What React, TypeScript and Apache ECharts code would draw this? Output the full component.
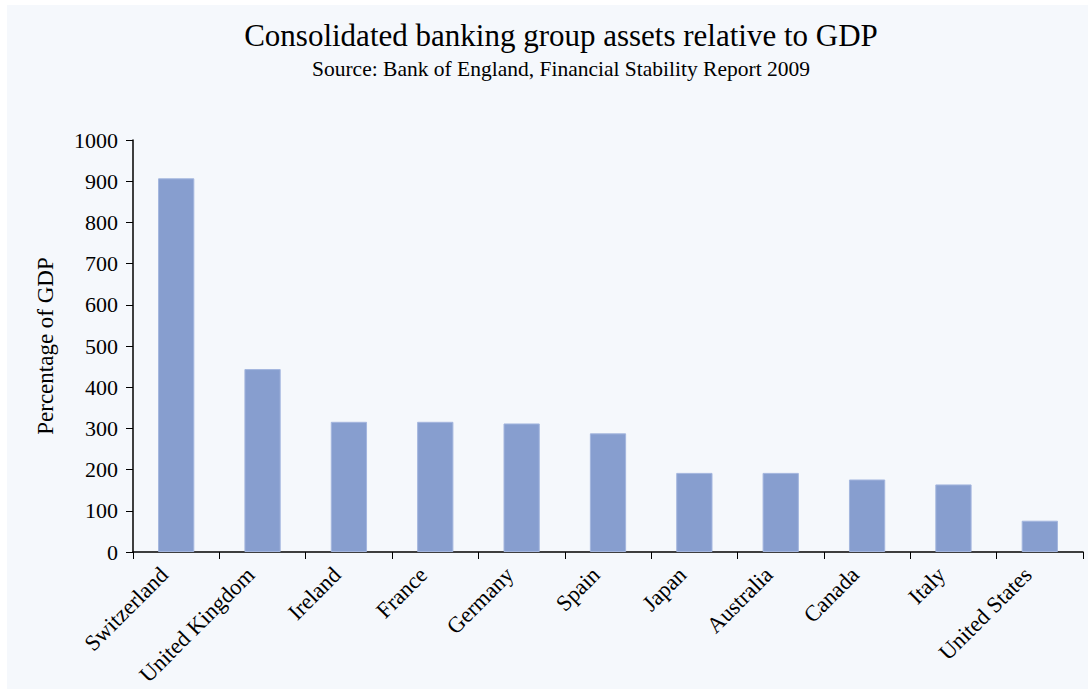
import React, { useEffect, useRef } from "react";
import * as echarts from "echarts";

const countries = [
  "Switzerland",
  "United Kingdom",
  "Ireland",
  "France",
  "Germany",
  "Spain",
  "Japan",
  "Australia",
  "Canada",
  "Italy",
  "United States",
];
const assetsPctGdp = [907, 444, 316, 316, 312, 288, 192, 192, 176, 164, 76];

const titleText = "Consolidated banking group assets relative to GDP";
const subtitleText = "Source: Bank of England, Financial Stability Report 2009";
const yAxisName = "Percentage of GDP";

const FONT = "'Liberation Serif', 'Times New Roman', serif";

export default function App() {
  const ref = useRef<HTMLDivElement>(null);
  useEffect(() => {
    if (!ref.current) return;
    const chart = echarts.init(ref.current, null, { renderer: "svg" });
    chart.setOption({
      animation: false,
      backgroundColor: "#ffffff",
      textStyle: { fontFamily: FONT, color: "#000" },
      graphic: [
        {
          type: "rect",
          z: -10,
          silent: true,
          shape: { x: 7, y: 5, width: 1081, height: 684 },
          style: { fill: "#f5f8fc" },
        },
      ],
      title: {
        text: titleText,
        subtext: subtitleText,
        left: 556,
        top: 15,
        textAlign: "center",
        itemGap: 7,
        textStyle: { fontFamily: FONT, fontSize: 31, fontWeight: "normal", color: "#000" },
        subtextStyle: { fontFamily: FONT, fontSize: 21.5, color: "#000" },
      },
      grid: {
        left: 133,
        right: 5,
        top: 140,
        bottom: 139,
        containLabel: false,
        outerBoundsMode: "none",
      },
      xAxis: {
        type: "category",
        data: countries,
        axisLine: { show: true, lineStyle: { color: "#000", width: 1.5 } },
        axisTick: { show: true, length: 7, lineStyle: { color: "#000" } },
        axisLabel: {
          rotate: 45,
          margin: 7,
          interval: 0,
          padding: [0, 17, 0, 0],
          fontFamily: FONT,
          fontSize: 22.5,
          color: "#000",
        },
      },
      yAxis: {
        type: "value",
        min: 0,
        max: 1000,
        interval: 100,
        name: yAxisName,
        nameLocation: "middle",
        nameGap: 76,
        nameRotate: 90,
        nameTextStyle: { fontFamily: FONT, fontSize: 23, color: "#000" },
        axisLine: { show: true, lineStyle: { color: "#000", width: 1.5 } },
        axisTick: { show: true, length: 7, lineStyle: { color: "#000" } },
        splitLine: { show: false },
        axisLabel: {
          margin: 15,
          fontFamily: FONT,
          fontSize: 22,
          color: "#000",
          formatter: (v: number) => String(v),
        },
      },
      series: [
        {
          type: "bar",
          data: assetsPctGdp,
          barWidth: "42%",
          itemStyle: { color: "#879ecf", borderColor: "#a4b6de", borderWidth: 1 },
        },
      ],
    });
    return () => chart.dispose();
  }, []);
  return (
    <div
      ref={ref}
      style={{ position: "fixed", left: 0, top: 0, width: 1088, height: 691 }}
    />
  );
}
